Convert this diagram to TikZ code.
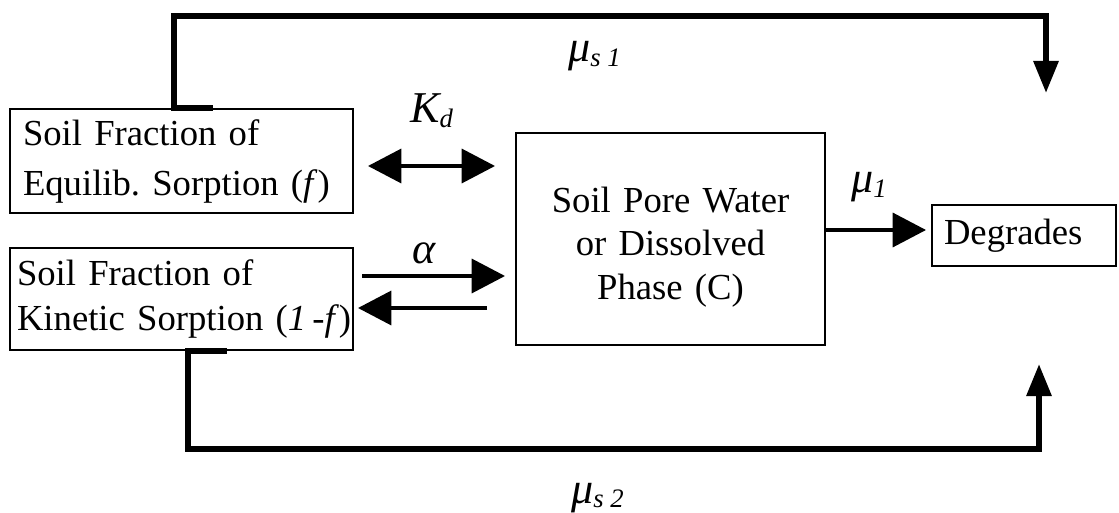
\documentclass[tikz,border=0pt]{standalone}
\usepackage{fontspec}
\setmainfont{Liberation Serif}
\usetikzlibrary{arrows.meta}
\frenchspacing
\newcommand\lsub[1]{\raisebox{-3.5pt}{\fontsize{20}{20}\selectfont\itshape #1}}
\begin{document}
\begin{tikzpicture}[x=0.75pt,y=-0.75pt,
  box/.style={draw,line width=2.2pt,rectangle,inner ysep=0pt,font=\fontsize{27.5}{34}\selectfont},
  bigline/.style={line width=4.5pt},
  arr/.style={line width=2.6pt},
  bigtip/.style={-{Triangle[length=24pt,width=18pt]}},
  tip/.style={-{Triangle[length=25pt,width=25.5pt]}},
  dtip/.style={{Triangle[length=25pt,width=25.5pt]}-{Triangle[length=25pt,width=25.5pt]}},
  lbl/.style={inner sep=0pt,anchor=base west,font=\fontsize{33}{36}\selectfont\itshape}]
\useasboundingbox (0,0) rectangle (1119,513);

% boxes
\node[box,minimum width=257.25pt,minimum height=78pt,inner xsep=9.75pt,text width=237.75pt,align=left,
  font=\fontsize{27.5}{37.5}\selectfont] (b1) at (181.5,161)
  {\mbox{Soil Fraction of}\\\mbox{Equilib. Sorption (\textit{f})}};
\node[box,minimum width=257.25pt,minimum height=76.5pt,inner xsep=5.25pt,text width=246.75pt,align=left] (b2) at (181.5,299)
  {\mbox{Soil Fraction of}\\\mbox{Kinetic Sorption (\textit{1}\,-\textit{f})}};
\node[box,minimum width=231.75pt,minimum height=159pt,text width=200pt,align=center,
  font=\fontsize{27.5}{32.5}\selectfont] (b3) at (670.5,239)
  {\rule{0pt}{31pt}Soil Pore Water\\or Dissolved\\Phase (C)};
\node[box,minimum width=138pt,minimum height=45.75pt,inner xsep=9pt,text width=120pt,align=left] (b4) at (1024,235.5)
  {Degrades};

% named free ends
\coordinate (topc) at (1046,16);
\coordinate (d1) at (1046,93);
\coordinate (botc) at (1039,449);
\coordinate (d2) at (1039,364);
\coordinate (kdl) at (368,166);
\coordinate (kdr) at (495,166);
\coordinate (al1) at (362,276);
\coordinate (al2) at (505,276);
\coordinate (ar1) at (487,308);
\coordinate (ar2) at (358,308);
\coordinate (m1) at (926,230);

% connectors
\draw[bigline,bigtip] ([xshift=23.6pt]b1.north) -- ([xshift=-5.6pt]b1.north) |- (topc) -- (d1);
\draw[bigline,bigtip] ([xshift=34.1pt]b2.south) -- ([xshift=4.9pt]b2.south) |- (botc) -- (d2);
\draw[arr,dtip] (kdl) -- (kdr);
\draw[arr,tip] (al1) -- (al2);
\draw[arr,tip] (ar1) -- (ar2);
\draw[arr,tip] (b3.east |- m1) -- (m1);

% labels
\node[lbl] (lms1) at (568,62) {μ\lsub{s 1}};
\node[lbl] (lms2) at (571,503) {μ\lsub{s 2}};
\node[lbl] (lm1) at (851,193) {μ\lsub{1}};
\node[lbl] (lkd) at (410,123) {K\lsub{d}};
\node[lbl] (lal) at (412,263) {α};
\end{tikzpicture}
\end{document}
